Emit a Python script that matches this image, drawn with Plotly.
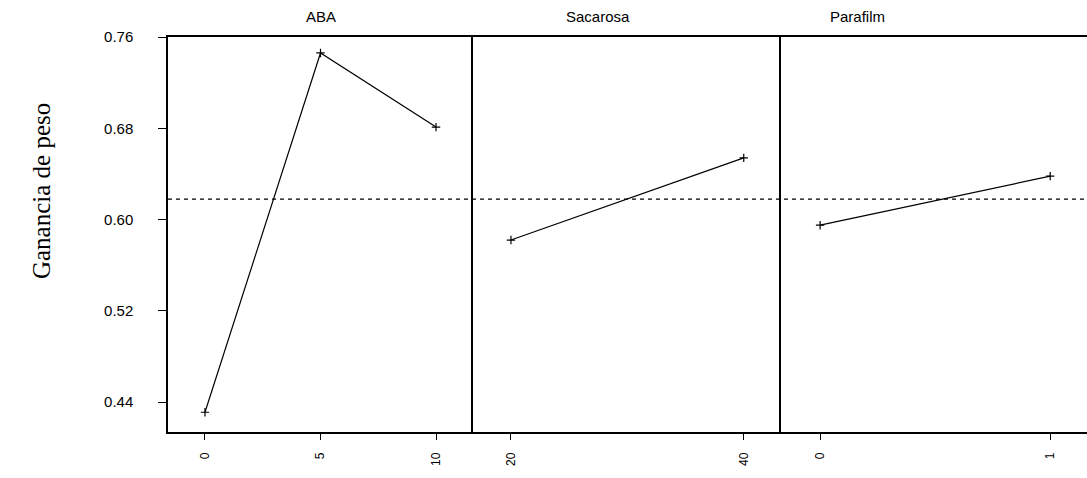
import plotly.graph_objects as go
from plotly.subplots import make_subplots

panels = ["ABA", "Sacarosa", "Parafilm"]
aba_levels = ["0", "5", "10"]
aba_values = [0.431, 0.746, 0.681]
sac_levels = ["20", "40"]
sac_values = [0.582, 0.654]
par_levels = ["0", "1"]
par_values = [0.595, 0.638]
y_ticks = [0.44, 0.52, 0.60, 0.68, 0.76]
y_ticktext = ["0.44", "0.52", "0.60", "0.68", "0.76"]

grand_mean = (sum(aba_values) / 3 + sum(sac_values) / 2 + sum(par_values) / 2) / 3

fig = make_subplots(rows=1, cols=3, shared_yaxes=True, horizontal_spacing=0,
                    column_widths=[305, 308, 306])

series = [(aba_levels, aba_values), (sac_levels, sac_values), (par_levels, par_values)]
for i, (lv, vals) in enumerate(series, start=1):
    fig.add_trace(go.Scatter(
        x=list(range(len(lv))), y=vals, mode="lines+markers",
        line=dict(color="black", width=1.2),
        marker=dict(symbol="cross-thin", size=6, line=dict(color="black", width=1.2)),
        showlegend=False), row=1, col=i)

ranges = [[-0.32, 2.32], [-0.163, 1.16], [-0.17, 1.16]]
for i, (lv, _) in enumerate(series, start=1):
    fig.update_xaxes(row=1, col=i, range=ranges[i - 1], automargin=False,
                     tickmode="array", tickvals=list(range(len(lv))), ticktext=lv,
                     tickangle=-90, ticks="outside", ticklen=6, tickcolor="black",
                     ticklabelstandoff=8,
                     showline=True, linecolor="black", linewidth=1.5, mirror=True,
                     showgrid=False, zeroline=False,
                     tickfont=dict(family="Liberation Sans", size=12, color="black"))
    fig.update_yaxes(row=1, col=i, range=[0.4137, 0.76], automargin=False,
                     showline=True, linecolor="black", linewidth=1.5,
                     mirror=(i == 3),
                     showgrid=False, zeroline=False)

fig.update_yaxes(row=1, col=1, tickmode="array", tickvals=y_ticks, ticktext=y_ticktext,
                 ticks="outside", ticklen=8, tickcolor="black", ticklabelstandoff=22,
                 tickfont=dict(family="Liberation Sans", size=15, color="black"))

fig.add_shape(type="line", xref="paper", yref="y", x0=0, x1=1, y0=grand_mean, y1=grand_mean,
              line=dict(color="black", width=1.3, dash="4px,4px"))

# y-axis title (placed as annotation to match the offset position of the original)
fig.add_annotation(text="Ganancia de peso", xref="paper", yref="paper",
                   x=0, xanchor="center", xshift=-127, y=0.61, yanchor="middle",
                   textangle=-90, showarrow=False,
                   font=dict(family="Liberation Serif", size=25, color="black"))

title_x = [0.166, 0.468, 0.75]
for name, tx in zip(panels, title_x):
    fig.add_annotation(text=name, xref="paper", yref="paper",
                       x=tx, xanchor="center", y=1, yanchor="bottom", yshift=10,
                       showarrow=False,
                       font=dict(family="Liberation Sans", size=15, color="black"))

fig.update_layout(width=1087, height=478, plot_bgcolor="white", paper_bgcolor="white",
                  margin=dict(l=168, r=0, t=37, b=46, autoexpand=False))

fig.write_html("out.html", config={"displayModeBar": False},
               post_script="document.body.style.margin='0';document.body.style.overflow='hidden';")
